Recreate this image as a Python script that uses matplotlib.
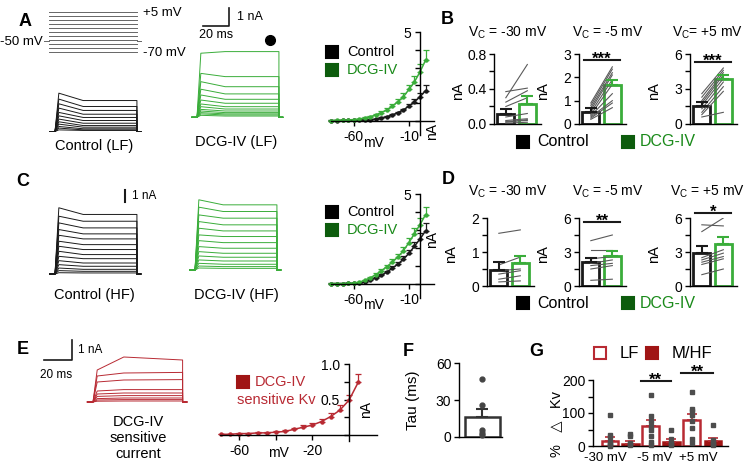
import numpy as np
import matplotlib
matplotlib.use('Agg')
import matplotlib.pyplot as plt
from matplotlib.lines import Line2D
from matplotlib.transforms import offset_copy

plt.rcParams['font.family'] = ['Liberation Sans', 'DejaVu Sans']
plt.rcParams['mathtext.fontset'] = 'custom'
plt.rcParams['mathtext.rm'] = 'Liberation Sans'
plt.rcParams['axes.unicode_minus'] = False
plt.rcParams['axes.linewidth'] = 1.0

# ---------------- data ----------------
# voltage protocol (mV)
step_mv = [-70, -62.5, -55, -47.5, -40, -32.5, -25, -17.5, -10, -2.5, 5]
hold_mv = -50

# current traces: amplitude (nA) early (peak) and at the end of the step
ctrl_lf_peak = [2.13, 1.80, 1.54, 1.30, 1.06, 0.87, 0.69, 0.54, 0.41, 0.28, 0.19, 0.09]
ctrl_lf_end = [1.72, 1.39, 1.17, 0.96, 0.78, 0.61, 0.46, 0.33, 0.24, 0.15, 0.09, 0.06]
dcg_lf_peak = [3.56, 2.44, 1.98, 1.56, 1.24, 0.96, 0.74, 0.59, 0.44, 0.35, 0.26, 0.19, 0.11]
dcg_lf_end = [3.65, 2.26, 1.70, 1.30, 1.00, 0.78, 0.59, 0.46, 0.35, 0.26, 0.19, 0.13, 0.07]
ctrl_hf_peak = [5.66, 4.94, 4.37, 3.80, 3.31, 2.80, 2.37, 1.94, 1.51, 1.14, 0.80, 0.51, 0.29, 0.11]
ctrl_hf_end = [5.09, 4.51, 3.94, 3.43, 3.00, 2.51, 2.09, 1.66, 1.31, 0.94, 0.66, 0.40, 0.23, 0.09]
dcg_hf_peak = [6.00, 5.37, 4.71, 4.14, 3.57, 3.00, 2.51, 2.00, 1.57, 1.20, 0.86, 0.57, 0.34, 0.17]
dcg_hf_end = [5.57, 5.00, 4.43, 3.86, 3.34, 2.86, 2.34, 1.86, 1.43, 1.09, 0.77, 0.49, 0.29, 0.14]
sens_early = [1.60, 1.30, 1.00, 0.55, 0.40, 0.28, 0.17, 0.10, 0.04]
sens_mid = [2.25, 1.45, 1.10, 0.62, 0.45, 0.32, 0.20, 0.12, 0.05]
sens_end = [2.10, 1.48, 1.12, 0.62, 0.45, 0.32, 0.20, 0.12, 0.05]

# I-V curves
iv_mv = [-80, -75, -70, -65, -60, -55, -50, -45, -40, -35, -30, -25, -20, -15, -10, -5, 0, 5]
iv_a_ctrl = [0.02, 0.02, 0.03, 0.03, 0.04, 0.05, 0.06, 0.07, 0.11, 0.17, 0.24, 0.34, 0.47, 0.62, 0.84, 1.08, 1.36, 1.70]
iv_a_ctrl_err = [0.01, 0.01, 0.01, 0.01, 0.01, 0.01, 0.02, 0.02, 0.03, 0.03, 0.04, 0.05, 0.06, 0.08, 0.10, 0.14, 0.20, 0.30]
iv_a_dcg = [0.02, 0.03, 0.04, 0.05, 0.07, 0.11, 0.17, 0.24, 0.34, 0.47, 0.62, 0.84, 1.08, 1.36, 1.77, 2.20, 2.76, 3.41]
iv_a_dcg_err = [0.01, 0.01, 0.01, 0.01, 0.02, 0.03, 0.04, 0.05, 0.07, 0.09, 0.11, 0.13, 0.16, 0.20, 0.25, 0.32, 0.42, 0.56]
iv_c_ctrl = [0.02, 0.02, 0.02, 0.03, 0.03, 0.06, 0.12, 0.22, 0.33, 0.48, 0.66, 0.88, 1.10, 1.38, 1.70, 2.10, 2.50, 2.95]
iv_c_ctrl_err = [0.01, 0.01, 0.01, 0.01, 0.01, 0.02, 0.03, 0.04, 0.05, 0.06, 0.08, 0.10, 0.12, 0.15, 0.18, 0.24, 0.32, 0.45]
iv_c_dcg = [0.02, 0.02, 0.02, 0.03, 0.05, 0.10, 0.20, 0.34, 0.52, 0.73, 0.96, 1.22, 1.50, 1.85, 2.30, 2.80, 3.30, 3.85]
iv_c_dcg_err = [0.01, 0.01, 0.01, 0.01, 0.02, 0.03, 0.04, 0.06, 0.08, 0.10, 0.12, 0.15, 0.18, 0.22, 0.26, 0.30, 0.35, 0.42]
iv_e_mv = [-70, -65, -60, -55, -50, -45, -40, -35, -30, -25, -20, -15, -10, -5, 0, 5]
iv_e = [0.01, 0.01, 0.02, 0.02, 0.03, 0.03, 0.04, 0.05, 0.08, 0.11, 0.14, 0.19, 0.26, 0.35, 0.49, 0.74]
iv_e_err = [0.01, 0.01, 0.01, 0.01, 0.01, 0.01, 0.01, 0.02, 0.02, 0.03, 0.03, 0.04, 0.05, 0.07, 0.08, 0.12]

# paired bar panels (control, DCG-IV) in nA
b_titles = [r'V$_{\mathrm{C}}$ = -30 mV', r'V$_{\mathrm{C}}$ = -5 mV', r'V$_{\mathrm{C}}$= +5 mV']
d_titles = [r'V$_{\mathrm{C}}$ = -30 mV', r'V$_{\mathrm{C}}$ = -5 mV', r'V$_{\mathrm{C}}$ = +5 mV']
b_means = [[0.11, 0.23], [0.53, 1.68], [1.58, 3.88]]
b_sem = [[0.06, 0.09], [0.17, 0.22], [0.27, 0.32]]
b_ctrl_cells = [[0.30, 0.37, 0.25, 0.20, 0.08, 0.04, 0.02, 0.03, 0.01],
                [0.90, 0.80, 0.70, 0.60, 0.50, 0.40, 0.35, 0.30, 0.25, 0.20],
                [2.60, 2.30, 2.00, 1.80, 1.60, 1.30, 1.00, 0.80, 0.60]]
b_dcg_cells = [[0.68, 0.41, 0.38, 0.30, 0.12, 0.06, 0.05, 0.04, 0.02],
               [2.45, 2.35, 2.20, 2.10, 1.90, 1.70, 1.30, 1.00, 0.90, 0.70],
               [4.80, 4.60, 4.40, 4.20, 3.90, 3.60, 3.20, 2.80, 1.00]]
d_means = [[0.48, 0.68], [2.10, 2.65], [2.95, 3.70]]
d_sem = [[0.22, 0.20], [0.40, 0.45], [0.55, 0.65]]
d_ctrl_cells = [[1.55, 0.62, 0.45, 0.35, 0.20, 0.12],
                [4.00, 3.20, 2.40, 2.00, 1.80, 1.50, 0.50],
                [4.80, 5.40, 2.50, 2.30, 2.10, 1.90, 1.00]]
d_dcg_cells = [[1.65, 0.85, 0.50, 0.45, 0.30, 0.15],
               [4.50, 3.20, 2.60, 2.30, 2.00, 1.80, 0.60],
               [6.00, 5.30, 3.20, 2.90, 2.60, 2.40, 1.50]]
b_sig = [None, '***', '***']
d_sig = [None, '**', '*']

# F: tau (ms)
tau_mean = 16
tau_sem = 7
tau_cells = [47, 26, 6, 3, 2]

# G: % change Kv
g_labels = ['-30 mV', '-5 mV', '+5 mV']
g_lf_mean = [14, 62, 80]
g_lf_sem = [14, 18, 17]
g_mhf_mean = [6, 12, 16]
g_mhf_sem = [9, 8, 9]
g_lf_cells = [[95, 32, 28, 12, 5, 2, 0], [155, 92, 75, 60, 48, 30, 12, 2], [163, 112, 105, 95, 75, 55, 22, 10]]
g_mhf_cells = [[35, 30, 10, 5, 2], [48, 22, 10, 5, 2], [63, 18, 10, 5, 2]]

BLACK = '#1a1a1a'
GREEN = '#3aad3a'
GREEN_DK = '#0d5c0d'
GREEN_TXT = '#1a8a1a'
RED = '#b82a33'
RED_DK = '#a01515'
GREY = '#5a5a5a'

W, H = 751, 470
fig = plt.figure(figsize=(W / 100, H / 100), dpi=100)


def data_axes(xz, sx, xlim, yz, sy, ylim):
    # xz/yz: pixel of data zero, sx/sy: pixels per data unit
    x0 = xz + xlim[0] * sx
    x1 = xz + xlim[1] * sx
    ytop = yz - ylim[1] * sy
    ybot = yz - ylim[0] * sy
    ax = fig.add_axes([x0 / W, 1 - ybot / H, (x1 - x0) / W, (ybot - ytop) / H])
    ax.set_xlim(xlim)
    ax.set_ylim(ylim)
    return ax


def ftext(x, y, s, **kw):
    kw.setdefault('ha', 'center')
    kw.setdefault('va', 'center')
    fig.text(x / W, 1 - y / H, s, **kw)


def fsquare(x, y, color, filled=True, ms=8):
    fig.add_artist(Line2D([x / W], [1 - y / H], marker='s', ms=ms, ls='',
                          color=color, mfc=color if filled else 'white',
                          mew=1.5, transform=fig.transFigure))


def sweeps(ax, early, late, color, mid=None, t_end=64):
    for i in range(len(early)):
        m = late[i] if mid is None else mid[i]
        ax.plot([-4, 0, 3, 22, t_end, t_end, t_end + 3],
                [0, 0, early[i], m, late[i], 0, 0], color=color, lw=0.7)
    ax.axis('off')


def stars(ax, x, y, s):
    # asterisks sit just above a significance line
    tr = offset_copy(ax.transData, fig=fig, y=-4, units='dots')
    ax.text(x, y, s, transform=tr, ha='center', va='baseline', fontsize=12,
            fontweight='bold', clip_on=False)


# panel letters
for letter, x, y in [('A', 25, 21), ('B', 447, 20), ('C', 23, 182), ('D', 448, 179),
                     ('E', 23, 349), ('F', 408, 352), ('G', 536, 352)]:
    ftext(x, y, letter, fontsize=13, fontweight='bold')

# ---------------- A: protocol + traces ----------------
axp = data_axes(49, 1.29, (-4, 72), 14.7, 0.533, (-75, 10))
for v in step_mv:
    axp.plot([0, 68], [v, v], color='#666666', lw=0.7)
axp.plot([-4, 0], [hold_mv, hold_mv], color='#666666', lw=0.7)
axp.plot([68, 72], [hold_mv, hold_mv], color='#666666', lw=0.7)
axp.axis('off')
ftext(43, 42, '-50 mV', ha='right', fontsize=9.5)
ftext(143, 13, '+5 mV', ha='left', fontsize=9.5)
ftext(143, 53, '-70 mV', ha='left', fontsize=9.5)

ax = data_axes(55, 1.28, (-6, 70), 131.5, 18, (-0.3, 2.4))
sweeps(ax, ctrl_lf_peak, ctrl_lf_end, BLACK)
ftext(94, 146, 'Control (LF)', fontsize=10.5)

ax = data_axes(197, 1.28, (-6, 70), 117.3, 18, (-0.3, 4.0))
sweeps(ax, dcg_lf_peak, dcg_lf_end, GREEN)
ax.plot([4.9, 25.2, 25.2], [5.07, 5.07, 6.07], color=BLACK, lw=1.2, clip_on=False)
ax.text(31, 5.6, '1 nA', fontsize=9, va='center')
ax.text(15, 4.55, '20 ms', fontsize=9, ha='center', va='center')
ax.plot([57.3], [4.29], 'o', color='black', ms=7, clip_on=False)
ftext(236, 142, 'DCG-IV (LF)', fontsize=10.5)

# ---------------- C: traces ----------------
ax = data_axes(55, 1.28, (-6, 70), 274, 11.7, (-0.3, 6.0))
sweeps(ax, ctrl_hf_peak, ctrl_hf_end, BLACK)
ax.plot([54.7, 54.7], [6.15, 7.18], color=BLACK, lw=1.5, clip_on=False)
ax.text(60, 6.7, '1 nA', fontsize=8.5, va='center')
ftext(94, 295, 'Control (HF)', fontsize=10.5)

ax = data_axes(195, 1.28, (-6, 70), 270, 11.7, (-0.3, 6.3))
sweeps(ax, dcg_hf_peak, dcg_hf_end, GREEN)
ftext(236, 295, 'DCG-IV (HF)', fontsize=10.5)

# ---------------- E: traces ----------------
ax = data_axes(93, 1.4, (-6, 70), 402, 20, (-0.3, 2.4))
sweeps(ax, sens_early, sens_end, RED, mid=sens_mid)
ax.plot([-35, -15, -15], [2.1, 2.1, 3.1], color=BLACK, lw=1.2, clip_on=False)
ax.text(-10.7, 2.6, '1 nA', fontsize=8.5, va='center')
ax.text(-26.4, 1.35, '20 ms', fontsize=8.5, ha='center', va='center')
ftext(138, 438, 'DCG-IV\nsensitive\ncurrent', fontsize=10.5, linespacing=1.15)


# ---------------- I-V plots ----------------
def iv_axes(ax, xticks, xlabels, yticks, ylabels):
    ax.spines['left'].set_position(('data', 0))
    ax.spines['bottom'].set_position(('data', 0))
    ax.spines['top'].set_visible(False)
    ax.spines['right'].set_visible(False)
    ax.set_xticks(xticks)
    ax.set_xticklabels(xlabels)
    ax.set_yticks(yticks)
    ax.set_yticklabels(ylabels)
    ax.tick_params(direction='out', length=3.5, width=1, labelsize=10, pad=3)
    ax.patch.set_alpha(0)


def iv_curve(ax, v, y, err, color):
    ax.errorbar(v, y, yerr=[np.zeros(len(err)), err], fmt='-o', color=color, ms=2.2,
                lw=1.1, elinewidth=0.9, capsize=2.5, capthick=0.9, clip_on=False)


ax = data_axes(420, 1.107, (-80, 13), 121, 17.8, (-0.8, 5))
iv_curve(ax, iv_mv, iv_a_ctrl, iv_a_ctrl_err, BLACK)
iv_curve(ax, iv_mv, iv_a_dcg, iv_a_dcg_err, GREEN)
iv_axes(ax, [-60, -10], ['-60', '-10'], [0, 1, 2, 3, 4, 5], ['', '', '', '', '', '5'])
ftext(373, 143, 'mV', fontsize=10)
ftext(432, 131, 'nA', fontsize=10, rotation=90)
fsquare(332, 52, 'black')
fsquare(332, 70, GREEN_DK)
ftext(347, 52, 'Control', ha='left', fontsize=10.5)
ftext(347, 70, 'DCG-IV', ha='left', fontsize=10.5, color=GREEN_TXT)

ax = data_axes(420, 1.107, (-80, 13), 284, 18, (-0.8, 5))
iv_curve(ax, iv_mv, iv_c_ctrl, iv_c_ctrl_err, BLACK)
iv_curve(ax, iv_mv, iv_c_dcg, iv_c_dcg_err, GREEN)
iv_axes(ax, [-60, -10], ['-60', '-10'], [0, 1, 2, 3, 4, 5], ['', '', '', '', '', '5'])
ftext(373, 305, 'mV', fontsize=10)
ftext(432, 240, 'nA', fontsize=10, rotation=90)
fsquare(332, 212, 'black')
fsquare(332, 230, GREEN_DK)
ftext(347, 212, 'Control', ha='left', fontsize=10.5)
ftext(347, 230, 'DCG-IV', ha='left', fontsize=10.5, color=GREEN_TXT)

ax = data_axes(349, 1.83, (-70.5, 15.3), 435, 71, (-0.08, 1.0))
iv_curve(ax, iv_e_mv, iv_e, iv_e_err, RED)
iv_axes(ax, [-60, -40, -20], ['-60', '', '-20'], [0, 0.25, 0.5, 0.75, 1.0], ['', '', '0.5', '', '1.0'])
ftext(278, 453, 'mV', fontsize=10)
ftext(366, 410, 'nA', fontsize=10, rotation=90)
fsquare(243, 382, RED_DK)
ftext(255, 382, 'DCG-IV', ha='left', fontsize=10.5, color=RED)
ftext(237, 400, 'sensitive Kv', ha='left', fontsize=10.5, color=RED)


# ---------------- B / D paired bars ----------------
def bar_panel(yaxis_px, zero_px, top_px, ymax, means, sem, ctrl, dcg, yticks, ylabels, title, title_px):
    sx = 21.5
    ax = data_axes(yaxis_px + 0.55 * sx, sx, (-0.55, 1.65), zero_px, (zero_px - top_px) / ymax, (0, ymax))
    for c, d in zip(ctrl, dcg):
        ax.plot([0, 1], [c, d], color=GREY, lw=0.8, zorder=3)
    ax.bar([0, 1], means, width=0.8, facecolor='none', edgecolor=[BLACK, GREEN], lw=2, zorder=2)
    ax.errorbar([0], [means[0]], yerr=[[0], [sem[0]]], color=BLACK, capsize=4, lw=1.5, capthick=1.5, zorder=4)
    ax.errorbar([1], [means[1]], yerr=[[0], [sem[1]]], color=GREEN, capsize=4, lw=1.5, capthick=1.5, zorder=4)
    ax.spines['top'].set_visible(False)
    ax.spines['right'].set_visible(False)
    ax.set_xticks([])
    ax.set_yticks(yticks)
    ax.set_yticklabels(ylabels)
    ax.tick_params(direction='out', length=3.5, width=1, labelsize=10, pad=2)
    ftext(title_px[0], title_px[1], title, fontsize=10)
    ftext(yaxis_px - 36, (zero_px + top_px) / 2 + 2, 'nA', fontsize=10.5, rotation=90)
    return ax


def sig_bar(ax, ys, s):
    ax.plot([-0.3, 1.35], [ys, ys], color=BLACK, lw=1.5, clip_on=False)
    stars(ax, 0.52, ys, s)


b_axis = [494, 579, 690]
b_ymax = [0.8, 3, 6]
b_ticks = [[0, 0.2, 0.4, 0.6, 0.8], [0, 1, 2, 3], [0, 1.5, 3, 4.5, 6]]
b_tlab = [['0.0', '', '0.4', '', '0.8'], ['0', '1', '2', '3'], ['0', '', '3', '', '6']]
b_sig_y = [None, 2.74, 5.3]
b_tx = [508, 608, 708]
for i in range(3):
    ax = bar_panel(b_axis[i], 124, 54, b_ymax[i], b_means[i], b_sem[i], b_ctrl_cells[i], b_dcg_cells[i],
                   b_ticks[i], b_tlab[i], b_titles[i], (b_tx[i], 33))
    if b_sig[i] is not None:
        sig_bar(ax, b_sig_y[i], b_sig[i])

d_axis = [487, 579, 690]
d_ymax = [2, 6, 6]
d_ticks = [[0, 0.5, 1, 1.5, 2], [0, 1.5, 3, 4.5, 6], [0, 1.5, 3, 4.5, 6]]
d_tlab = [['0', '', '1', '', '2'], ['0', '', '3', '', '6'], ['0', '', '3', '', '6']]
d_sig_y = [None, 5.65, 6.45]
for i in range(3):
    ax = bar_panel(d_axis[i], 286, 218, d_ymax[i], d_means[i], d_sem[i], d_ctrl_cells[i], d_dcg_cells[i],
                   d_ticks[i], d_tlab[i], d_titles[i], (b_tx[i], 192))
    if d_sig[i] is not None:
        sig_bar(ax, d_sig_y[i], d_sig[i])

for ly in [142, 303]:
    fsquare(523, ly, 'black', ms=9)
    fsquare(628, ly, GREEN_DK, ms=9)
    ftext(537, ly, 'Control', ha='left', fontsize=11.5)
    ftext(640, ly, 'DCG-IV', ha='left', fontsize=11.5, color=GREEN_TXT)

# ---------------- F ----------------
ax = data_axes(482.3, 35.8, (-0.65, 0.55), 437, 1.233, (0, 60))
ax.bar([0], [tau_mean], width=0.97, facecolor='none', edgecolor='#333333', lw=1.8)
ax.errorbar([0], [tau_mean], yerr=[[0], [tau_sem]], color='#333333', capsize=4, lw=1.5, capthick=1.5)
ax.plot(np.zeros(len(tau_cells)), tau_cells, 'o', color='#444444', ms=3.5, clip_on=False, zorder=5)
ax.spines['top'].set_visible(False)
ax.spines['right'].set_visible(False)
ax.set_xticks([])
ax.set_yticks([0, 30, 60])
ax.tick_params(direction='out', length=3.5, width=1, labelsize=10, pad=2)
ftext(413, 400, 'Tau (ms)', fontsize=11, rotation=90)

# ---------------- G ----------------
ax = data_axes(610, 20.4, (-0.83, 5.78), 446, 0.33, (0, 200))
lf_x = [0, 2, 4]
mhf_x = [1, 3, 5.05]
ax.bar(lf_x, g_lf_mean, width=0.83, facecolor='white', edgecolor=RED, lw=1.8, zorder=2)
ax.bar(mhf_x, g_mhf_mean, width=0.83, facecolor=RED_DK, edgecolor=RED_DK, lw=1.8, zorder=2)
ax.errorbar(lf_x, g_lf_mean, yerr=[np.zeros(3), g_lf_sem], fmt='none', ecolor=RED, capsize=3.5, lw=1.2, capthick=1.2, zorder=3)
ax.errorbar(mhf_x, g_mhf_mean, yerr=[np.zeros(3), g_mhf_sem], fmt='none', ecolor=RED, capsize=3.5, lw=1.2, capthick=1.2, zorder=3)
for i in range(3):
    ax.plot([lf_x[i]] * len(g_lf_cells[i]), g_lf_cells[i], 's', color='#4d4d4d', ms=3.5, zorder=4, clip_on=False)
    ax.plot([mhf_x[i]] * len(g_mhf_cells[i]), g_mhf_cells[i], 's', color='#4d4d4d', ms=3.5, zorder=4, clip_on=False)
for i, ys in [(1, 197), (2, 221)]:
    ax.plot([lf_x[i] - 0.5, mhf_x[i]], [ys, ys], color=BLACK, lw=1.5, clip_on=False)
    stars(ax, (lf_x[i] - 0.5 + mhf_x[i]) / 2, ys, '**')
ax.spines['top'].set_visible(False)
ax.spines['right'].set_visible(False)
ax.set_xticks([-0.25, 2.2, 4.35])
ax.set_xticklabels(g_labels)
ax.set_yticks([0, 50, 100, 150, 200])
ax.set_yticklabels(['0', '', '100', '', '200'])
ax.tick_params(axis='y', direction='out', length=3.5, width=1, labelsize=10, pad=2)
ax.tick_params(axis='x', length=0, labelsize=9.5, pad=4)
ftext(556, 424, '%   \u25b3   Kv', fontsize=10.5, rotation=90)
fsquare(600, 353, RED, filled=False, ms=9)
fsquare(652, 353, RED_DK, ms=9)
ftext(620, 353, 'LF', ha='left', fontsize=12)
ftext(672, 353, 'M/HF', ha='left', fontsize=12)

fig.savefig('out.png', dpi=100)
